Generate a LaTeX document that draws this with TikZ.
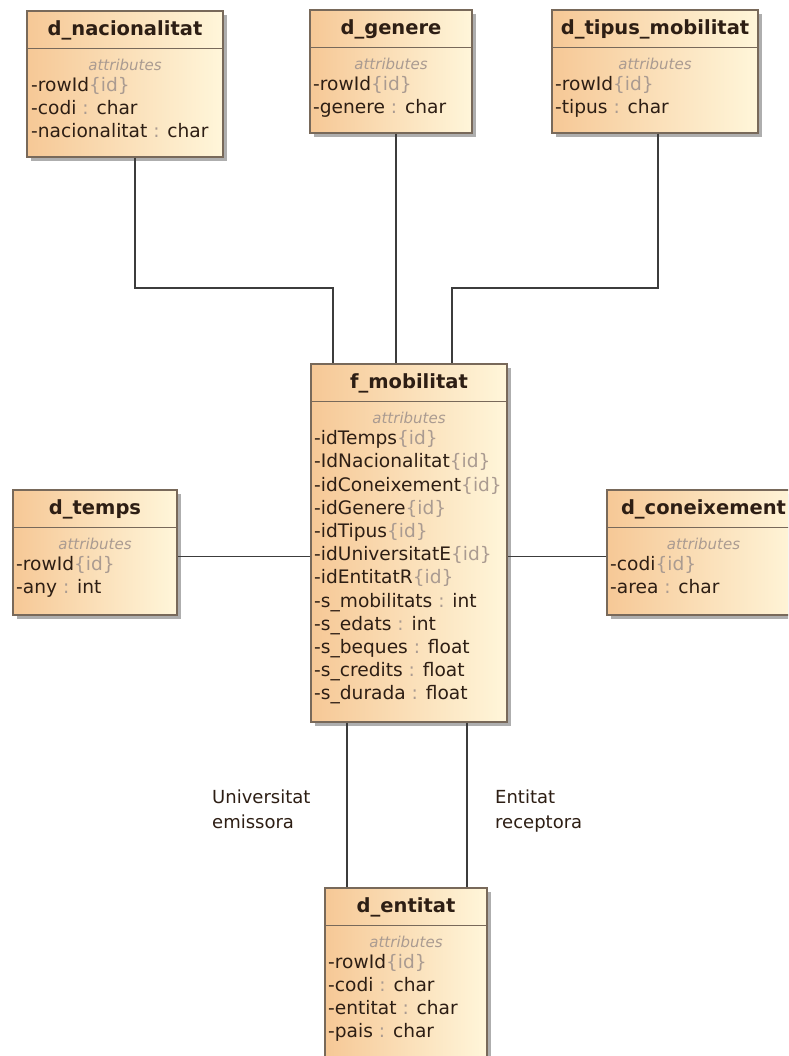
\documentclass[tikz,border=0pt]{standalone}
\usepackage{fontspec}
\setmainfont{DejaVu Sans}
\usetikzlibrary{shadows}
\definecolor{peach}{RGB}{246,200,150}
\definecolor{cream}{RGB}{255,246,218}
\definecolor{bord}{RGB}{120,105,90}
\definecolor{ink}{RGB}{45,30,20}
\definecolor{soft}{RGB}{170,155,145}
\definecolor{wirec}{RGB}{60,60,60}
\newcommand\idtag{{\color{soft}\{id\}}}
\newcommand\cl{{\color{soft}:}}
\tikzset{
 cls/.style={draw=bord, line width=1.2pt, left color=peach, right color=cream, inner sep=0pt,
   drop shadow={shadow xshift=4pt, shadow yshift=-4pt, fill=black!45, opacity=0.7}},
 ttl/.style={font=\fontsize{19.5}{23}\selectfont\bfseries, text=ink, inner sep=0pt},
 attr/.style={font=\fontsize{15}{18}\selectfont\itshape, text=soft, inner sep=0pt},
 row/.style={font=\fontsize{18.6}{22}\selectfont, text=ink, anchor=west, inner sep=0pt, text height=13.5pt, text depth=4pt},
 sepl/.style={draw=bord, line width=1.2pt},
 wire/.style={draw=wirec, line width=1.5pt},
 lbl/.style={font=\fontsize{18}{25}\selectfont, text=ink, align=left, anchor=north west, inner sep=0pt}
}
\newcommand\umlclass[6]{%
 \node[cls, minimum width=#4-#2, minimum height=#5-#3] (#1) at ({(#2+#4)/2},{(#3+#5)/2}) {};
 \draw[sepl] ([yshift=-38pt]#1.north west) -- ([yshift=-38pt]#1.north east);
 \node[ttl] (#1-t) at ({(#2+#4)/2},#3+19) {#6};
 \node[attr] (#1-a) at ({(#2+#4)/2},#3+54) {attributes};
}
\begin{document}
\begin{tikzpicture}[x=1pt,y=-1pt]
\clip (0,0) rectangle (788,1056);
\fill[white] (0,0) rectangle (788,1056);
% classes
\umlclass{nac}{27}{11}{223}{157}{d\_nacionalitat}
\foreach \t [count=\i] in {{-rowId\idtag},{-codi \cl{} char},{-nacionalitat \cl{} char}}
  \node[row] (nac-\i) at (31,{87+23*(\i-1)}) {\t};
\umlclass{gen}{310}{10}{472}{133}{d\_genere}
\foreach \t [count=\i] in {{-rowId\idtag},{-genere \cl{} char}}
  \node[row] (gen-\i) at (313,{86+23*(\i-1)}) {\t};
\umlclass{tip}{552}{10}{758}{133}{d\_tipus\_mobilitat}
\foreach \t [count=\i] in {{-rowId\idtag},{-tipus \cl{} char}}
  \node[row] (tip-\i) at (555,{86+23*(\i-1)}) {\t};
\umlclass{fm}{311}{364}{507}{722}{f\_mobilitat}
\foreach \t [count=\i] in {{-idTemps\idtag},{-IdNacionalitat\idtag},{-idConeixement\idtag},{-idGenere\idtag},{-idTipus\idtag},{-idUniversitatE\idtag},{-idEntitatR\idtag},{-s\_mobilitats \cl{} int},{-s\_edats \cl{} int},{-s\_beques \cl{} float},{-s\_credits \cl{} float},{-s\_durada \cl{} float}}
  \node[row] (fm-\i) at (314,{440+23.2*(\i-1)}) {\t};
\umlclass{tmp}{13}{490}{177}{615}{d\_temps}
\foreach \t [count=\i] in {{-rowId\idtag},{-any \cl{} int}}
  \node[row] (tmp-\i) at (16,{566+23*(\i-1)}) {\t};
\umlclass{con}{607}{490}{800}{615}{d\_coneixement}
\foreach \t [count=\i] in {{-codi\idtag},{-area \cl{} char}}
  \node[row] (con-\i) at (610,{566+23*(\i-1)}) {\t};
\umlclass{ent}{325}{888}{487}{1070}{d\_entitat}
\foreach \t [count=\i] in {{-rowId\idtag},{-codi \cl{} char},{-entitat \cl{} char},{-pais \cl{} char}}
  \node[row] (ent-\i) at (328,{964+23*(\i-1)}) {\t};
% connectors
\coordinate (a1) at ([xshift=10pt]nac.south);
\coordinate (a2) at ([xshift=-76pt]fm.north);
\coordinate (am) at (0,288);
\draw[wire] (a1) -- (a1 |- am) -- (a2 |- am) -- (a2);
\draw[wire] ([xshift=5pt]gen.south) -- ([xshift=5pt]gen.south |- fm.north);
\coordinate (b1) at ([xshift=3pt]tip.south);
\coordinate (b2) at ([xshift=43pt]fm.north);
\draw[wire] (b1) -- (b1 |- am) -- (b2 |- am) -- (b2);
\draw[wire] ([yshift=-67pt]tmp.north east) -- ([yshift=-67pt]tmp.north east -| fm.west);
\draw[wire] ([yshift=-67pt]con.north west) -- ([yshift=-67pt]con.north west -| fm.east);
\draw[wire] ([xshift=-62pt]fm.south) -- ([xshift=-62pt]fm.south |- ent.north);
\draw[wire] ([xshift=58pt]fm.south) -- ([xshift=58pt]fm.south |- ent.north);
% labels
\node[lbl] (lu) at (212,790) {Universitat\\emissora};
\node[lbl] (le) at (495,790) {Entitat\\receptora};
\end{tikzpicture}
\end{document}
